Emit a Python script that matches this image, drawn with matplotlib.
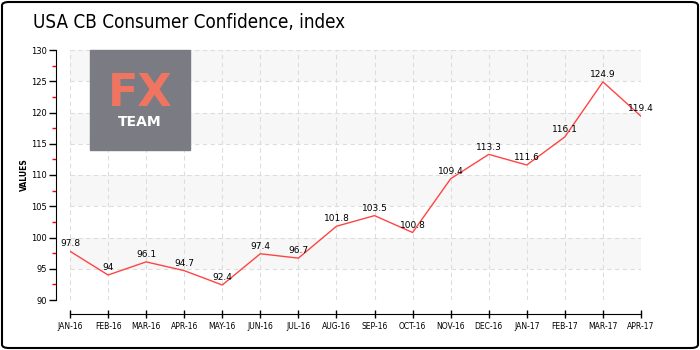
import matplotlib
matplotlib.use("Agg")
import matplotlib.pyplot as plt
from matplotlib.patches import Rectangle, FancyBboxPatch
from matplotlib.ticker import MultipleLocator

months = ["JAN-16", "FEB-16", "MAR-16", "APR-16", "MAY-16", "JUN-16", "JUL-16", "AUG-16",
          "SEP-16", "OCT-16", "NOV-16", "DEC-16", "JAN-17", "FEB-17", "MAR-17", "APR-17"]
values = [97.8, 94, 96.1, 94.7, 92.4, 97.4, 96.7, 101.8, 103.5, 100.8, 109.4, 113.3,
          111.6, 116.1, 124.9, 119.4]
labels = ["97.8", "94", "96.1", "94.7", "92.4", "97.4", "96.7", "101.8", "103.5", "100.8",
          "109.4", "113.3", "111.6", "116.1", "124.9", "119.4"]
bands = [(95, 100), (105, 110), (115, 120), (125, 130)]

fig = plt.figure(figsize=(7, 3.5), dpi=100)
ax = fig.add_axes([70 / 700, 1 - 300 / 350, 571 / 700, 250 / 350])

x = list(range(len(months)))
for lo, hi in bands:
    ax.axhspan(lo, hi, color="#f7f7f7", zorder=0, lw=0)
ax.plot(x, values, color="#ff4444", lw=1.0, zorder=3)
for xi, v, s in zip(x, values, labels):
    ax.annotate(s, (xi, v), xytext=(0, 2), textcoords="offset points",
                ha="center", va="bottom", fontsize=6.5, zorder=4)

ax.set_xlim(0, len(months) - 1)
ax.set_ylim(90, 130)
ax.set_xticks(x)
ax.set_xticklabels(months)
ax.yaxis.set_major_locator(MultipleLocator(5))
ax.yaxis.set_minor_locator(MultipleLocator(2.5))
ax.tick_params(axis="y", which="major", labelsize=6, length=5, width=1, pad=1.5)
ax.tick_params(axis="y", which="minor", length=3, width=1, color="#ff0000")
ax.tick_params(axis="x", direction="inout", length=6, width=1, pad=3, labelsize=5.5)
ax.grid(True, which="major", color="#dddddd", ls=(0, (4, 3)), lw=0.8, zorder=1)

for s in ["top", "right"]:
    ax.spines[s].set_visible(False)
ax.spines["left"].set_position(("outward", 10))
ax.spines["bottom"].set_position(("outward", 10))
ax.spines["bottom"].set_bounds(0, len(months) - 1)
ax.set_ylabel("VALUES", fontsize=5.5, fontweight="bold")
ax.yaxis.set_label_coords(-0.072, 0.5)

# logo
fig.patches.append(Rectangle((90 / 700, 1 - 150 / 350), 100 / 700, 100 / 350,
                             transform=fig.transFigure, color="#7b7b83", zorder=5))
fig.text(140 / 700, 1 - 94 / 350, "FX", color="#f07561", fontsize=32, fontweight="bold",
         ha="center", va="center", zorder=6)
fig.text(140 / 700, 1 - 122 / 350, "TEAM", color="white", fontsize=10, fontweight="bold",
         ha="center", va="center", zorder=6)

fig.text(33 / 700, 1 - 22 / 350, "USA CB Consumer Confidence, index",
         family=["DejaVu Sans Condensed", "Liberation Sans Narrow", "DejaVu Sans"],
         fontstretch="condensed", fontsize=13.5, ha="left", va="center")

fig.patches.append(FancyBboxPatch((2 / 700, 2 / 350), 696 / 700, 346 / 350,
                                  boxstyle="round,pad=0,rounding_size=0.01",
                                  transform=fig.transFigure, fill=False,
                                  ec="black", lw=1.5))

fig.savefig("out.png", dpi=100)
